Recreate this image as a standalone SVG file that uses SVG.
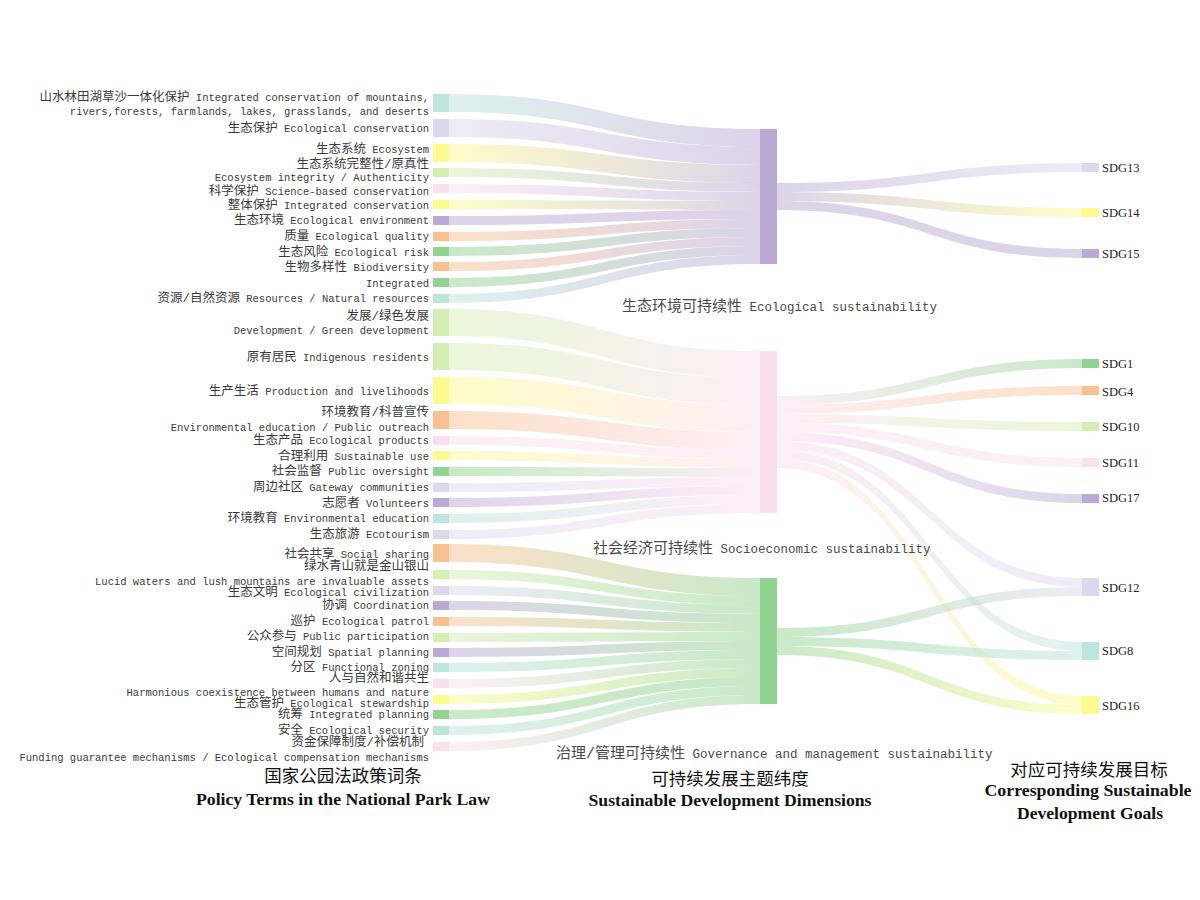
<svg xmlns="http://www.w3.org/2000/svg" width="1200" height="900" viewBox="0 0 1200 900">
<style>
.lbl{font-family:"Liberation Mono","Noto Sans CJK SC",monospace;font-size:10.5px;fill:#3a3a3a;text-anchor:end}
.c{font-size:12.5px}
.mid{font-family:"Liberation Mono","Noto Sans CJK SC",monospace;font-size:12.5px;fill:#4a4a4a}
.m{font-size:15px}
.sdg{font-family:"Liberation Serif","Times New Roman",serif;font-size:12.5px;fill:#222}
.tcn{font-family:"Noto Sans CJK SC",sans-serif;font-size:17.5px;fill:#111;text-anchor:middle}
.ten{font-family:"Liberation Serif","Times New Roman",serif;font-size:16px;font-weight:bold;fill:#111;text-anchor:middle}
#links path{opacity:0.5}
.T{fill:#bde4dd}.LP{fill:#dcd9ee}.Y{fill:#fdfb90}.LG{fill:#d5eeb3}.PK{fill:#fbdfee}.PU{fill:#bba9d5}.O{fill:#f9c192}.G{fill:#93d392}
</style>
<defs>
<linearGradient id="T-PU"><stop offset="0" stop-color="#bde4dd"/><stop offset="1" stop-color="#bba9d5"/></linearGradient>
<linearGradient id="LP-PU"><stop offset="0" stop-color="#dcd9ee"/><stop offset="1" stop-color="#bba9d5"/></linearGradient>
<linearGradient id="Y-PU"><stop offset="0" stop-color="#fdfb90"/><stop offset="1" stop-color="#bba9d5"/></linearGradient>
<linearGradient id="LG-PU"><stop offset="0" stop-color="#d5eeb3"/><stop offset="1" stop-color="#bba9d5"/></linearGradient>
<linearGradient id="PK-PU"><stop offset="0" stop-color="#fbdfee"/><stop offset="1" stop-color="#bba9d5"/></linearGradient>
<linearGradient id="O-PU"><stop offset="0" stop-color="#f9c192"/><stop offset="1" stop-color="#bba9d5"/></linearGradient>
<linearGradient id="G-PU"><stop offset="0" stop-color="#93d392"/><stop offset="1" stop-color="#bba9d5"/></linearGradient>
<linearGradient id="LG-PK"><stop offset="0" stop-color="#d5eeb3"/><stop offset="1" stop-color="#fbdfee"/></linearGradient>
<linearGradient id="Y-PK"><stop offset="0" stop-color="#fdfb90"/><stop offset="1" stop-color="#fbdfee"/></linearGradient>
<linearGradient id="O-PK"><stop offset="0" stop-color="#f9c192"/><stop offset="1" stop-color="#fbdfee"/></linearGradient>
<linearGradient id="G-PK"><stop offset="0" stop-color="#93d392"/><stop offset="1" stop-color="#fbdfee"/></linearGradient>
<linearGradient id="LP-PK"><stop offset="0" stop-color="#dcd9ee"/><stop offset="1" stop-color="#fbdfee"/></linearGradient>
<linearGradient id="PU-PK"><stop offset="0" stop-color="#bba9d5"/><stop offset="1" stop-color="#fbdfee"/></linearGradient>
<linearGradient id="T-PK"><stop offset="0" stop-color="#bde4dd"/><stop offset="1" stop-color="#fbdfee"/></linearGradient>
<linearGradient id="O-G"><stop offset="0" stop-color="#f9c192"/><stop offset="1" stop-color="#93d392"/></linearGradient>
<linearGradient id="LG-G"><stop offset="0" stop-color="#d5eeb3"/><stop offset="1" stop-color="#93d392"/></linearGradient>
<linearGradient id="LP-G"><stop offset="0" stop-color="#dcd9ee"/><stop offset="1" stop-color="#93d392"/></linearGradient>
<linearGradient id="PU-G"><stop offset="0" stop-color="#bba9d5"/><stop offset="1" stop-color="#93d392"/></linearGradient>
<linearGradient id="T-G"><stop offset="0" stop-color="#bde4dd"/><stop offset="1" stop-color="#93d392"/></linearGradient>
<linearGradient id="PK-G"><stop offset="0" stop-color="#fbdfee"/><stop offset="1" stop-color="#93d392"/></linearGradient>
<linearGradient id="Y-G"><stop offset="0" stop-color="#fdfb90"/><stop offset="1" stop-color="#93d392"/></linearGradient>
<linearGradient id="PU-LP"><stop offset="0" stop-color="#bba9d5"/><stop offset="1" stop-color="#dcd9ee"/></linearGradient>
<linearGradient id="PU-Y"><stop offset="0" stop-color="#bba9d5"/><stop offset="1" stop-color="#fdfb90"/></linearGradient>
<linearGradient id="PK-O"><stop offset="0" stop-color="#fbdfee"/><stop offset="1" stop-color="#f9c192"/></linearGradient>
<linearGradient id="PK-LG"><stop offset="0" stop-color="#fbdfee"/><stop offset="1" stop-color="#d5eeb3"/></linearGradient>
<linearGradient id="PK-LP"><stop offset="0" stop-color="#fbdfee"/><stop offset="1" stop-color="#dcd9ee"/></linearGradient>
<linearGradient id="PK-T"><stop offset="0" stop-color="#fbdfee"/><stop offset="1" stop-color="#bde4dd"/></linearGradient>
<linearGradient id="PK-Y"><stop offset="0" stop-color="#fbdfee"/><stop offset="1" stop-color="#fdfb90"/></linearGradient>
<linearGradient id="G-LP"><stop offset="0" stop-color="#93d392"/><stop offset="1" stop-color="#dcd9ee"/></linearGradient>
<linearGradient id="G-T"><stop offset="0" stop-color="#93d392"/><stop offset="1" stop-color="#bde4dd"/></linearGradient>
<linearGradient id="G-Y"><stop offset="0" stop-color="#93d392"/><stop offset="1" stop-color="#fdfb90"/></linearGradient>
</defs>

<g id="links">
<path fill="url(#T-PU)" d="M449,94 C604.5,94 604.5,129 760,129 L760,147 C604.5,147 604.5,112 449,112 Z"/>
<path fill="url(#LP-PU)" d="M449,119 C604.5,119 604.5,147 760,147 L760,165 C604.5,165 604.5,137 449,137 Z"/>
<path fill="url(#Y-PU)" d="M449,144 C604.5,144 604.5,165 760,165 L760,183 C604.5,183 604.5,162 449,162 Z"/>
<path fill="url(#LG-PU)" d="M449,168 C604.5,168 604.5,183 760,183 L760,192 C604.5,192 604.5,177 449,177 Z"/>
<path fill="url(#PK-PU)" d="M449,184 C604.5,184 604.5,192 760,192 L760,201 C604.5,201 604.5,193 449,193 Z"/>
<path fill="url(#Y-PU)" d="M449,200 C604.5,200 604.5,201 760,201 L760,210 C604.5,210 604.5,209 449,209 Z"/>
<path fill="#bba9d5" d="M449,216 C604.5,216 604.5,210 760,210 L760,219 C604.5,219 604.5,225 449,225 Z"/>
<path fill="url(#O-PU)" d="M449,232 C604.5,232 604.5,219 760,219 L760,228 C604.5,228 604.5,241 449,241 Z"/>
<path fill="url(#G-PU)" d="M449,247 C604.5,247 604.5,228 760,228 L760,237 C604.5,237 604.5,256 449,256 Z"/>
<path fill="url(#O-PU)" d="M449,262 C604.5,262 604.5,237 760,237 L760,246 C604.5,246 604.5,271 449,271 Z"/>
<path fill="url(#G-PU)" d="M449,278 C604.5,278 604.5,246 760,246 L760,255 C604.5,255 604.5,287 449,287 Z"/>
<path fill="url(#T-PU)" d="M449,294 C604.5,294 604.5,255 760,255 L760,264 C604.5,264 604.5,303 449,303 Z"/>

<path fill="url(#LG-PK)" d="M449,309 C604.5,309 604.5,351 760,351 L760,378 C604.5,378 604.5,336 449,336 Z"/>
<path fill="url(#LG-PK)" d="M449,343 C604.5,343 604.5,378 760,378 L760,405 C604.5,405 604.5,370 449,370 Z"/>
<path fill="url(#Y-PK)" d="M449,377 C604.5,377 604.5,405 760,405 L760,432 C604.5,432 604.5,404 449,404 Z"/>
<path fill="url(#O-PK)" d="M449,411 C604.5,411 604.5,432 760,432 L760,450 C604.5,450 604.5,429 449,429 Z"/>
<path fill="#fbdfee" d="M449,436 C604.5,436 604.5,450 760,450 L760,459 C604.5,459 604.5,445 449,445 Z"/>
<path fill="url(#Y-PK)" d="M449,451 C604.5,451 604.5,459 760,459 L760,468 C604.5,468 604.5,460 449,460 Z"/>
<path fill="url(#G-PK)" d="M449,467 C604.5,467 604.5,468 760,468 L760,477 C604.5,477 604.5,476 449,476 Z"/>
<path fill="url(#LP-PK)" d="M449,483 C604.5,483 604.5,477 760,477 L760,486 C604.5,486 604.5,492 449,492 Z"/>
<path fill="url(#PU-PK)" d="M449,498 C604.5,498 604.5,486 760,486 L760,495 C604.5,495 604.5,507 449,507 Z"/>
<path fill="url(#T-PK)" d="M449,514 C604.5,514 604.5,495 760,495 L760,504 C604.5,504 604.5,523 449,523 Z"/>
<path fill="url(#LP-PK)" d="M449,530 C604.5,530 604.5,504 760,504 L760,513 C604.5,513 604.5,539 449,539 Z"/>

<path fill="url(#O-G)" d="M449,544 C604.5,544 604.5,578 760,578 L760,596 C604.5,596 604.5,562 449,562 Z"/>
<path fill="url(#LG-G)" d="M449,570 C604.5,570 604.5,596 760,596 L760,605 C604.5,605 604.5,579 449,579 Z"/>
<path fill="url(#LP-G)" d="M449,586 C604.5,586 604.5,605 760,605 L760,614 C604.5,614 604.5,595 449,595 Z"/>
<path fill="url(#PU-G)" d="M449,601 C604.5,601 604.5,614 760,614 L760,623 C604.5,623 604.5,610 449,610 Z"/>
<path fill="url(#O-G)" d="M449,617 C604.5,617 604.5,623 760,623 L760,632 C604.5,632 604.5,626 449,626 Z"/>
<path fill="url(#LG-G)" d="M449,633 C604.5,633 604.5,632 760,632 L760,641 C604.5,641 604.5,642 449,642 Z"/>
<path fill="url(#PU-G)" d="M449,648 C604.5,648 604.5,641 760,641 L760,650 C604.5,650 604.5,657 449,657 Z"/>
<path fill="url(#T-G)" d="M449,663 C604.5,663 604.5,650 760,650 L760,659 C604.5,659 604.5,672 449,672 Z"/>
<path fill="url(#PK-G)" d="M449,679 C604.5,679 604.5,659 760,659 L760,668 C604.5,668 604.5,688 449,688 Z"/>
<path fill="url(#Y-G)" d="M449,695 C604.5,695 604.5,668 760,668 L760,677 C604.5,677 604.5,704 449,704 Z"/>
<path fill="#93d392" d="M449,710 C604.5,710 604.5,677 760,677 L760,686 C604.5,686 604.5,719 449,719 Z"/>
<path fill="url(#T-G)" d="M449,726 C604.5,726 604.5,686 760,686 L760,695 C604.5,695 604.5,735 449,735 Z"/>
<path fill="url(#PK-G)" d="M449,742 C604.5,742 604.5,695 760,695 L760,704 C604.5,704 604.5,751 449,751 Z"/>

<path fill="url(#PU-LP)" d="M777,183 C929.5,183 929.5,163 1082,163 L1082,172 C929.5,172 929.5,192 777,192 Z"/>
<path fill="url(#PU-Y)" d="M777,192 C929.5,192 929.5,208 1082,208 L1082,217 C929.5,217 929.5,201 777,201 Z"/>
<path fill="#bba9d5" d="M777,201 C929.5,201 929.5,249 1082,249 L1082,258 C929.5,258 929.5,210 777,210 Z"/>

<path fill="url(#PK-G)" d="M777,396 C929.5,396 929.5,359 1082,359 L1082,368 C929.5,368 929.5,405 777,405 Z"/>
<path fill="url(#PK-O)" d="M777,405 C929.5,405 929.5,386 1082,386 L1082,395 C929.5,395 929.5,414 777,414 Z"/>
<path fill="url(#PK-LG)" d="M777,414 C929.5,414 929.5,422 1082,422 L1082,431 C929.5,431 929.5,423 777,423 Z"/>
<path fill="#fbdfee" d="M777,423 C929.5,423 929.5,458 1082,458 L1082,467 C929.5,467 929.5,432 777,432 Z"/>
<path fill="url(#PK-PU)" d="M777,432 C929.5,432 929.5,494 1082,494 L1082,503 C929.5,503 929.5,441 777,441 Z"/>
<path fill="url(#PK-LP)" d="M777,441 C929.5,441 929.5,578 1082,578 L1082,587 C929.5,587 929.5,450 777,450 Z"/>
<path fill="url(#PK-T)" d="M777,450 C929.5,450 929.5,642 1082,642 L1082,651 C929.5,651 929.5,459 777,459 Z"/>
<path fill="url(#PK-Y)" d="M777,459 C929.5,459 929.5,696 1082,696 L1082,705 C929.5,705 929.5,468 777,468 Z"/>

<path fill="url(#G-LP)" d="M777,628 C929.5,628 929.5,587 1082,587 L1082,596 C929.5,596 929.5,637 777,637 Z"/>
<path fill="url(#G-T)" d="M777,637 C929.5,637 929.5,651 1082,651 L1082,660 C929.5,660 929.5,646 777,646 Z"/>
<path fill="url(#G-Y)" d="M777,646 C929.5,646 929.5,705 1082,705 L1082,714 C929.5,714 929.5,655 777,655 Z"/>
</g>

<g id="n-shanshui"><rect class="T" x="433" y="94" width="16" height="18"/><text class="lbl" x="429" y="101"><tspan class="c">山水林田湖草沙一体化保护</tspan> Integrated conservation of mountains,</text><text class="lbl" x="429" y="115">rivers,forests, farmlands, lakes, grasslands, and deserts</text></g>
<g id="n-shengtaibaohu"><rect class="LP" x="433" y="119" width="16" height="18"/><text class="lbl" x="429" y="132"><tspan class="c">生态保护</tspan> Ecological conservation</text></g>
<g id="n-ecosystem"><rect class="Y" x="433" y="144" width="16" height="18"/><text class="lbl" x="429" y="153"><tspan class="c">生态系统</tspan> Ecosystem</text></g>
<g id="n-integrity"><rect class="LG" x="433" y="168" width="16" height="9"/><text class="lbl" x="429" y="168"><tspan class="c">生态系统完整性/原真性</tspan></text><text class="lbl" x="429" y="181">Ecosystem integrity / Authenticity</text></g>
<g id="n-science"><rect class="PK" x="433" y="184" width="16" height="9"/><text class="lbl" x="429" y="195"><tspan class="c">科学保护</tspan> Science-based conservation</text></g>
<g id="n-integrated-cons"><rect class="Y" x="433" y="200" width="16" height="9"/><text class="lbl" x="429" y="209"><tspan class="c">整体保护</tspan> Integrated conservation</text></g>
<g id="n-eco-env"><rect class="PU" x="433" y="216" width="16" height="9"/><text class="lbl" x="429" y="224"><tspan class="c">生态环境</tspan> Ecological environment</text></g>
<g id="n-quality"><rect class="O" x="433" y="232" width="16" height="9"/><text class="lbl" x="429" y="240"><tspan class="c">质量</tspan> Ecological quality</text></g>
<g id="n-risk"><rect class="G" x="433" y="247" width="16" height="9"/><text class="lbl" x="429" y="256"><tspan class="c">生态风险</tspan> Ecological risk</text></g>
<g id="n-biodiversity"><rect class="O" x="433" y="262" width="16" height="9"/><text class="lbl" x="429" y="271"><tspan class="c">生物多样性</tspan> Biodiversity</text></g>
<g id="n-integrated"><rect class="G" x="433" y="278" width="16" height="9"/><text class="lbl" x="429" y="287">Integrated</text></g>
<g id="n-resources"><rect class="T" x="433" y="294" width="16" height="9"/><text class="lbl" x="429" y="302"><tspan class="c">资源/自然资源</tspan> Resources / Natural resources</text></g>

<g id="n-development"><rect class="LG" x="433" y="309" width="16" height="27"/><text class="lbl" x="429" y="320"><tspan class="c">发展/绿色发展</tspan></text><text class="lbl" x="429" y="334">Development / Green development</text></g>
<g id="n-residents"><rect class="LG" x="433" y="343" width="16" height="27"/><text class="lbl" x="429" y="361"><tspan class="c">原有居民</tspan> Indigenous residents</text></g>
<g id="n-production"><rect class="Y" x="433" y="377" width="16" height="27"/><text class="lbl" x="429" y="395"><tspan class="c">生产生活</tspan> Production and livelihoods</text></g>
<g id="n-outreach"><rect class="O" x="433" y="411" width="16" height="18"/><text class="lbl" x="429" y="416"><tspan class="c">环境教育/科普宣传</tspan></text><text class="lbl" x="429" y="431">Environmental education / Public outreach</text></g>
<g id="n-products"><rect class="PK" x="433" y="436" width="16" height="9"/><text class="lbl" x="429" y="444"><tspan class="c">生态产品</tspan> Ecological products</text></g>
<g id="n-sustainable-use"><rect class="Y" x="433" y="451" width="16" height="9"/><text class="lbl" x="429" y="460"><tspan class="c">合理利用</tspan> Sustainable use</text></g>
<g id="n-oversight"><rect class="G" x="433" y="467" width="16" height="9"/><text class="lbl" x="429" y="475"><tspan class="c">社会监督</tspan> Public oversight</text></g>
<g id="n-gateway"><rect class="LP" x="433" y="483" width="16" height="9"/><text class="lbl" x="429" y="491"><tspan class="c">周边社区</tspan> Gateway communities</text></g>
<g id="n-volunteers"><rect class="PU" x="433" y="498" width="16" height="9"/><text class="lbl" x="429" y="507"><tspan class="c">志愿者</tspan> Volunteers</text></g>
<g id="n-env-edu"><rect class="T" x="433" y="514" width="16" height="9"/><text class="lbl" x="429" y="522"><tspan class="c">环境教育</tspan> Environmental education</text></g>
<g id="n-ecotourism"><rect class="LP" x="433" y="530" width="16" height="9"/><text class="lbl" x="429" y="538"><tspan class="c">生态旅游</tspan> Ecotourism</text></g>

<g id="n-sharing"><rect class="O" x="433" y="544" width="16" height="18"/><text class="lbl" x="429" y="558"><tspan class="c">社会共享</tspan> Social sharing</text></g>
<g id="n-lucid"><rect class="LG" x="433" y="570" width="16" height="9"/><text class="lbl" x="429" y="570"><tspan class="c">绿水青山就是金山银山</tspan></text><text class="lbl" x="429" y="585">Lucid waters and lush mountains are invaluable assets</text></g>
<g id="n-civilization"><rect class="LP" x="433" y="586" width="16" height="9"/><text class="lbl" x="429" y="596"><tspan class="c">生态文明</tspan> Ecological civilization</text></g>
<g id="n-coordination"><rect class="PU" x="433" y="601" width="16" height="9"/><text class="lbl" x="429" y="609"><tspan class="c">协调</tspan> Coordination</text></g>
<g id="n-patrol"><rect class="O" x="433" y="617" width="16" height="9"/><text class="lbl" x="429" y="625"><tspan class="c">巡护</tspan> Ecological patrol</text></g>
<g id="n-participation"><rect class="LG" x="433" y="633" width="16" height="9"/><text class="lbl" x="429" y="640"><tspan class="c">公众参与</tspan> Public participation</text></g>
<g id="n-spatial"><rect class="PU" x="433" y="648" width="16" height="9"/><text class="lbl" x="429" y="656"><tspan class="c">空间规划</tspan> Spatial planning</text></g>
<g id="n-zoning"><rect class="T" x="433" y="663" width="16" height="9"/><text class="lbl" x="429" y="671"><tspan class="c">分区</tspan> Functional zoning</text></g>
<g id="n-harmony"><rect class="PK" x="433" y="679" width="16" height="9"/><text class="lbl" x="429" y="682"><tspan class="c">人与自然和谐共生</tspan></text><text class="lbl" x="429" y="696">Harmonious coexistence between humans and nature</text></g>
<g id="n-stewardship"><rect class="Y" x="433" y="695" width="16" height="9"/><text class="lbl" x="429" y="707"><tspan class="c">生态管护</tspan> Ecological stewardship</text></g>
<g id="n-planning"><rect class="G" x="433" y="710" width="16" height="9"/><text class="lbl" x="429" y="718"><tspan class="c">统筹</tspan> Integrated planning</text></g>
<g id="n-security"><rect class="T" x="433" y="726" width="16" height="9"/><text class="lbl" x="429" y="734"><tspan class="c">安全</tspan> Ecological security</text></g>
<g id="n-funding"><rect class="PK" x="433" y="742" width="16" height="9"/><text class="lbl" x="424" y="746"><tspan class="c">资金保障制度/补偿机制</tspan></text><text class="lbl" x="429" y="761">Funding guarantee mechanisms / Ecological compensation mechanisms</text></g>

<g id="n-eco"><rect class="PU" x="760" y="129" width="17" height="135"/><text class="mid" x="622" y="311"><tspan class="m">生态环境可持续性</tspan> Ecological sustainability</text></g>
<g id="n-socio"><rect class="PK" x="760" y="351" width="17" height="162"/><text class="mid" x="593" y="553"><tspan class="m">社会经济可持续性</tspan> Socioeconomic sustainability</text></g>
<g id="n-gov"><rect class="G" x="760" y="578" width="17" height="126"/><text class="mid" x="556" y="758"><tspan class="m">治理/管理可持续性</tspan> Governance and management sustainability</text></g>

<g id="n-sdg13"><rect class="LP" x="1082" y="163" width="17" height="9"/><text class="sdg" x="1102" y="172">SDG13</text></g>
<g id="n-sdg14"><rect class="Y" x="1082" y="208" width="17" height="9"/><text class="sdg" x="1102" y="217">SDG14</text></g>
<g id="n-sdg15"><rect class="PU" x="1082" y="249" width="17" height="9"/><text class="sdg" x="1102" y="258">SDG15</text></g>
<g id="n-sdg1"><rect class="G" x="1082" y="359" width="17" height="9"/><text class="sdg" x="1102" y="368">SDG1</text></g>
<g id="n-sdg4"><rect class="O" x="1082" y="386" width="17" height="9"/><text class="sdg" x="1102" y="396">SDG4</text></g>
<g id="n-sdg10"><rect class="LG" x="1082" y="422" width="17" height="9"/><text class="sdg" x="1102" y="431">SDG10</text></g>
<g id="n-sdg11"><rect class="PK" x="1082" y="458" width="17" height="9"/><text class="sdg" x="1102" y="467">SDG11</text></g>
<g id="n-sdg17"><rect class="PU" x="1082" y="494" width="17" height="9"/><text class="sdg" x="1102" y="502">SDG17</text></g>
<g id="n-sdg12"><rect class="LP" x="1082" y="578" width="17" height="18"/><text class="sdg" x="1102" y="592">SDG12</text></g>
<g id="n-sdg8"><rect class="T" x="1082" y="642" width="17" height="18"/><text class="sdg" x="1102" y="655">SDG8</text></g>
<g id="n-sdg16"><rect class="Y" x="1082" y="696" width="17" height="18"/><text class="sdg" x="1102" y="710">SDG16</text></g>

<g id="titles">
<text class="tcn" x="343" y="782">国家公园法政策词条</text>
<text class="ten" x="343" y="805" textLength="294" lengthAdjust="spacingAndGlyphs">Policy Terms in the National Park Law</text>
<text class="tcn" x="730" y="785">可持续发展主题纬度</text>
<text class="ten" x="730" y="806" textLength="283" lengthAdjust="spacingAndGlyphs">Sustainable Development Dimensions</text>
<text class="tcn" x="1089" y="776">对应可持续发展目标</text>
<text class="ten" x="1088" y="796" textLength="207" lengthAdjust="spacingAndGlyphs">Corresponding Sustainable</text>
<text class="ten" x="1090" y="819" textLength="146" lengthAdjust="spacingAndGlyphs">Development Goals</text>
</g>
</svg>
